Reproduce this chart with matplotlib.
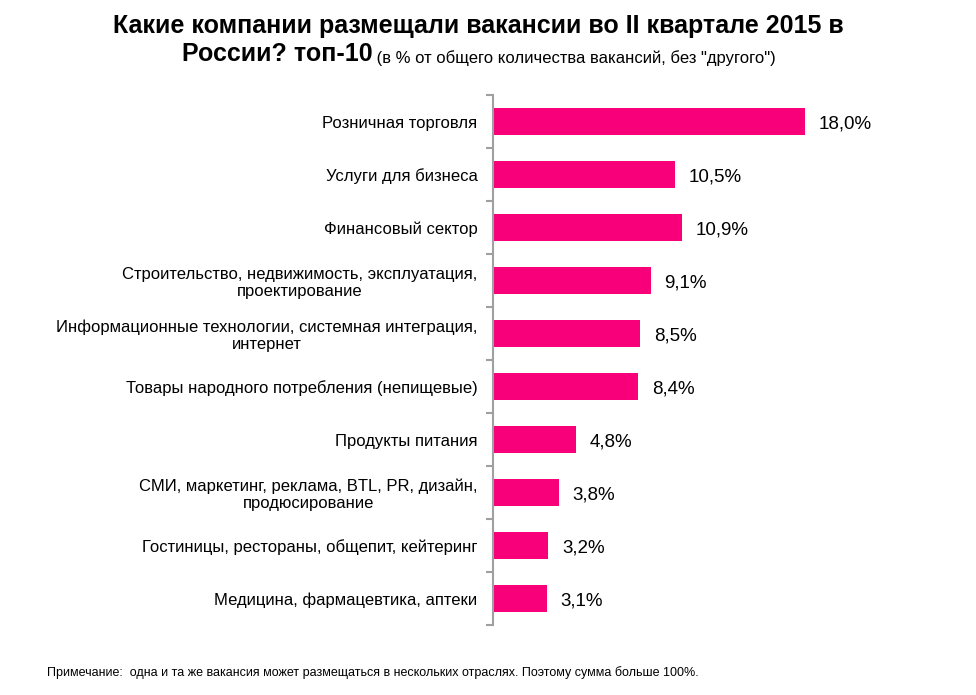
import matplotlib.pyplot as plt
import numpy as np

plt.rcParams['font.family'] = ['Liberation Sans', 'DejaVu Sans']

# данные, сверху вниз
categories = ["Розничная торговля",
              "Услуги для бизнеса",
              "Финансовый сектор",
              "Строительство, недвижимость, эксплуатация,\nпроектирование",
              "Информационные технологии, системная интеграция,\nинтернет",
              "Товары народного потребления (непищевые)",
              "Продукты питания",
              "СМИ, маркетинг, реклама, BTL, PR, дизайн,\nпродюсирование",
              "Гостиницы, рестораны, общепит, кейтеринг",
              "Медицина, фармацевтика, аптеки"]
values = [18.0, 10.5, 10.9, 9.1, 8.5, 8.4, 4.8, 3.8, 3.2, 3.1]
value_labels = ["18,0%", "10,5%", "10,9%", "9,1%", "8,5%", "8,4%", "4,8%", "3,8%", "3,2%", "3,1%"]

bar_color = '#F8007A'
axis_color = '#A0A0A0'

fig = plt.figure(figsize=(9.76, 6.95), dpi=100)
ax = fig.add_axes([0.505, 0.1007, 0.444, 0.7623])

y = np.arange(len(categories))
ax.barh(y, values, height=0.5, color=bar_color)
ax.set_ylim(len(categories) - 0.5, -0.5)
ax.set_xlim(0, 25)

for yi, v, lab in zip(y, values, value_labels):
    ax.annotate(lab, (v, yi), xytext=(10, -2), textcoords='offset points',
                va='center', ha='left', fontsize=13.5)

# оси
for s in ['top', 'right', 'bottom']:
    ax.spines[s].set_visible(False)
ax.spines['left'].set_color(axis_color)
ax.spines['left'].set_linewidth(1.5)
ax.set_xticks([])
ax.set_yticks(y)
ax.set_yticklabels(categories, fontsize=12)
ax.tick_params(axis='y', which='major', length=0, pad=11)
ax.set_yticks(np.arange(len(categories) + 1) - 0.5, minor=True)
ax.tick_params(axis='y', which='minor', length=5, width=1.5, color=axis_color)
for t in ax.get_yticklabels():
    t.set_multialignment('center')
    t.set_linespacing(1.15)

# заголовок
fig.text(0.49, 0.952, "Какие компании размещали вакансии во II квартале 2015 в",
         ha='center', va='baseline', fontsize=18, fontweight='bold')
t2 = fig.text(0.186, 0.912, "России? топ-10", ha='left', va='baseline',
              fontsize=18, fontweight='bold')
ax.annotate(' (в % от общего количества вакансий, без "другого")', xy=(1, 0),
            xycoords=t2, va='bottom', ha='left', fontsize=12,
            annotation_clip=False)

fig.text(0.048, 0.033,
         "Примечание:  одна и та же вакансия может размещаться в нескольких отраслях. Поэтому сумма больше 100%.",
         ha='left', va='center', fontsize=9)

fig.savefig('out.png', dpi=100)
